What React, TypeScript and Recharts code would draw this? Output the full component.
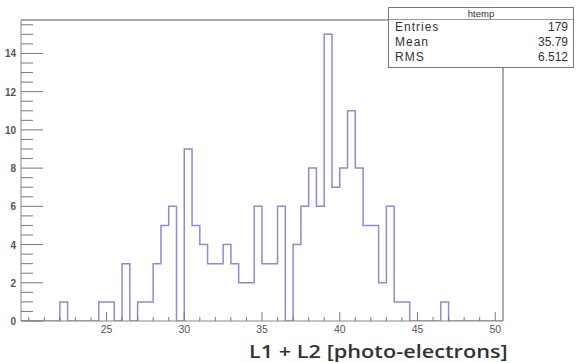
import { LineChart, Line, XAxis, YAxis, ReferenceLine } from "recharts"

// histogram bins: lower edge of first bin and bin width
const binLow = 19.5
const binWidth = 0.5
const xMax = 50.5
const yMax = 15.75

// entries per 0.5-wide bin, from 19.5 up to 50.5
const counts = [
  0, 0, 0, 0, 0, 1, 0, 0, 0, 0,
  1, 1, 0, 3, 0, 1, 1, 3, 5, 6,
  0, 9, 5, 4, 3, 3, 4, 3, 2, 2,
  6, 3, 3, 6, 0, 4, 6, 8, 6, 15,
  7, 8, 11, 8, 5, 5, 2, 6, 1, 1,
  0, 0, 0, 0, 1, 0, 0, 0, 0, 0,
  0, 0,
]

const xMajorTicks = [25, 30, 35, 40, 45, 50]
const xMinorTicks = [
  20, 21, 22, 23, 24, 25, 26, 27, 28, 29, 30, 31, 32, 33, 34, 35,
  36, 37, 38, 39, 40, 41, 42, 43, 44, 45, 46, 47, 48, 49, 50,
]
const yMajorTicks = [0, 2, 4, 6, 8, 10, 12, 14]
const yMinorTicks = [
  0, 0.5, 1, 1.5, 2, 2.5, 3, 3.5, 4, 4.5, 5, 5.5, 6, 6.5, 7, 7.5,
  8, 8.5, 9, 9.5, 10, 10.5, 11, 11.5, 12, 12.5, 13, 13.5, 14, 14.5, 15, 15.5,
]

const statsTitle = "htemp"
const statsRows = [
  ["Entries", "179"],
  ["Mean", "35.79"],
  ["RMS", "6.512"],
]

const xTitle = "L1 + L2 [photo-electrons]"

const data = [
  ...counts.map((c, i) => ({ x: binLow + i * binWidth, n: c })),
  { x: xMax, n: counts[counts.length - 1] },
]

const tickColor = "#777"
const labelColor = "#555"

function XTick(props: any) {
  const { x, y, payload } = props
  const major = xMajorTicks.includes(payload.value)
  return (
    <g>
      <line x1={x} x2={x} y1={y} y2={y - (major ? 9 : 4)} stroke={tickColor} strokeWidth={1} />
      {major && (
        <text x={x} y={y + 12} textAnchor="middle" fontSize={10.5} fill={labelColor}
          fontFamily="Liberation Sans, Arial, sans-serif">
          {payload.value}
        </text>
      )}
    </g>
  )
}

function YTick(props: any) {
  const { x, y, payload } = props
  const major = yMajorTicks.includes(payload.value)
  return (
    <g>
      <line x1={x} x2={x + (major ? 22 : 12)} y1={y} y2={y} stroke={tickColor} strokeWidth={1} />
      {major && (
        <text x={x - 5} y={y + 4} textAnchor="end" fontSize={10} fontWeight="bold" fill={labelColor}
          fontFamily="Liberation Sans, Arial, sans-serif">
          {payload.value}
        </text>
      )}
    </g>
  )
}

export default function App() {
  return (
    <div style={{ position: "absolute", left: 0, top: 0, width: 581, height: 363, background: "#fff", overflow: "hidden" }}>
      <LineChart width={581} height={363} data={data}
        margin={{ top: 20, right: 78, bottom: 22, left: 0 }}>
        <XAxis dataKey="x" type="number" domain={[binLow, xMax]} ticks={xMinorTicks}
          interval={0} tickLine={false} tickSize={0} tickMargin={0} height={20}
          tick={<XTick />} axisLine={{ stroke: "#888" }} allowDataOverflow />
        <YAxis type="number" domain={[0, yMax]} ticks={yMinorTicks} interval={0}
          tickLine={false} tickSize={0} tickMargin={0} width={21}
          tick={<YTick />} axisLine={{ stroke: "#888" }} allowDataOverflow />
        <ReferenceLine y={yMax} stroke="#aaa" strokeWidth={2} />
        <ReferenceLine x={xMax} stroke="#aaa" strokeWidth={2} />
        <Line type="stepAfter" dataKey="n" stroke="#8c8cd4" strokeWidth={1.5}
          dot={false} isAnimationActive={false} />
      </LineChart>

      <div style={{
        position: "absolute", left: 388, top: 7, width: 184, height: 59,
        border: "1px solid #777", background: "#fff", color: "#333",
        fontFamily: "Liberation Sans, Arial, sans-serif",
      }}>
        <div style={{ height: 11, lineHeight: "11px", fontSize: 9.5, textAlign: "center", borderBottom: "1px solid #999" }}>
          {statsTitle}
        </div>
        {statsRows.map(([k, v]) => (
          <div key={k} style={{ display: "flex", justifyContent: "space-between", padding: "0 5px 0 6px",
            height: 15, lineHeight: "15px", fontSize: 12 }}>
            <span style={{ letterSpacing: 1 }}>{k}</span>
            <span>{v}</span>
          </div>
        ))}
      </div>

      <div style={{
        position: "absolute", right: 73, top: 338.5, height: 24, lineHeight: "24px", whiteSpace: "nowrap",
        fontFamily: "Open Sans, sans-serif", fontSize: 17.5, fontWeight: 600, color: "#333",
        transform: "scaleX(1.24)", transformOrigin: "right center",
      }}>
        {xTitle}
      </div>
    </div>
  )
}
